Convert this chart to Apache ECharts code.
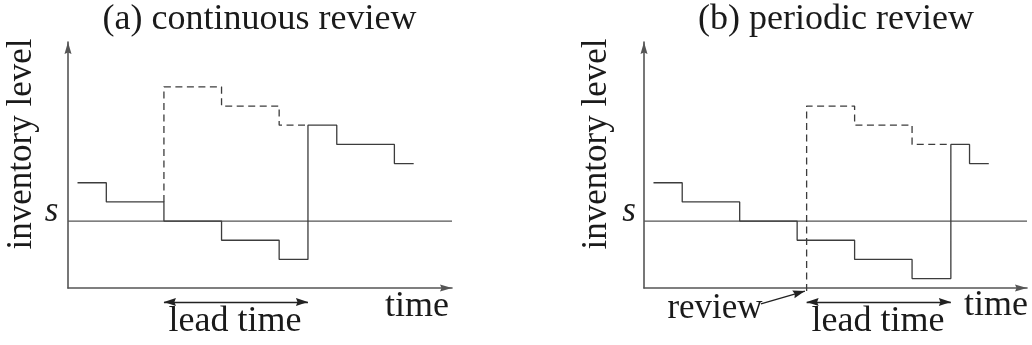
<!DOCTYPE html>
<html>
<head>
<meta charset="utf-8">
<script src="https://cdn.jsdelivr.net/npm/echarts@6/dist/echarts.min.js"></script>
<style>
html,body{margin:0;padding:0;background:#fff;}
#chart{width:1032px;height:345px;}
</style>
</head>
<body>
<div id="chart"></div>
<script>
// ---- data (time in half-period units, level in demand units; s = 0) ----
const panelTitles = ['(a) continuous review', '(b) periodic review'];
const yAxisName = 'inventory level';
const xAxisName = 'time';
const reorderLabel = 's';
const leadLabel = 'lead time';
const reviewLabel = 'review';

const reorderLevel = 0;
const timeRange = [-0.33, 13.0];
const levelRange = [-3.49, 9.34];

// (a) continuous review
const stockTimesA = [0, 1, 3, 5, 7, 8, 9, 11, 11.67];
const stockLevelsA = [2, 1, 0, -1, -2, 5, 4, 3, 3];
const positionTimesA = [3, 3, 5, 7, 8];
const positionLevelsA = [1, 7, 6, 5, 5];
const leadTimeA = [3, 8];

// (b) periodic review
const stockTimesB = [0, 1, 3, 5, 7, 9, 10.35, 11, 11.67];
const stockLevelsB = [2, 1, 0, -1, -2, -3, 4, 3, 3];
const positionTimesB = [5.33, 5.33, 7, 9, 10.35];
const positionLevelsB = [-3.65, 6, 5, 4, 4];
const leadTimeB = [5.33, 10.35];
const reviewArrowB = [[3.74, -4.32], [5.27, -3.65]];
const leadArrowLevel = -4.22;

// ---- helpers ----
const zip = (xs, ys) => xs.map((x, i) => [x, ys[i]]);
// arrow head whose tip sits at the centre of its box
const ARROW = 'path://M3.5,0L3.5,0M3.5,12L7,24L3.5,22.5L0,24Z';
const FONT = '"Liberation Serif", "Times New Roman", serif';
const LINE = '#3c3c3c';
const AXIS = '#555';

function axisX(gi) {
  return {
    type: 'value', gridIndex: gi, min: timeRange[0], max: timeRange[1],
    axisLine: { show: true, onZero: false, symbol: ['none', ARROW], symbolSize: [8, 24],
      lineStyle: { color: AXIS, width: 1.6 } },
    axisTick: { show: false }, axisLabel: { show: false }, splitLine: { show: false }
  };
}
function axisY(gi) {
  return {
    type: 'value', gridIndex: gi, min: levelRange[0], max: levelRange[1],
    axisLine: { show: true, onZero: false, symbol: ['none', ARROW], symbolSize: [8, 24],
      lineStyle: { color: AXIS, width: 1.6 } },
    axisTick: { show: false }, axisLabel: { show: false }, splitLine: { show: false }
  };
}
function stepSeries(gi, data, dashed) {
  return {
    type: 'line', xAxisIndex: gi, yAxisIndex: gi, data: data, step: 'end',
    showSymbol: false, symbol: 'none', clip: false, silent: true,
    lineStyle: { color: LINE, width: 1.3, type: dashed ? [7, 4.5] : 'solid' },
    z: dashed ? 3 : 4
  };
}
function levelSeries(gi) {
  return {
    type: 'line', xAxisIndex: gi, yAxisIndex: gi,
    data: [[timeRange[0], reorderLevel], [timeRange[1], reorderLevel]],
    showSymbol: false, symbol: 'none', clip: false, silent: true,
    lineStyle: { color: '#555', width: 1.4 }, z: 2
  };
}
function arrowSeries(gi, coordsList, symbols, curveness) {
  return {
    type: 'lines', coordinateSystem: 'cartesian2d', xAxisIndex: gi, yAxisIndex: gi,
    clip: false, silent: true,
    symbol: symbols, symbolSize: [[8, 24], [8, 24]],
    lineStyle: { color: '#222', width: 1.4, curveness: curveness || 0, opacity: 1 },
    data: coordsList.map(c => ({ coords: c })), z: 5
  };
}

function txt(text, x, y, opts) {
  opts = opts || {};
  return {
    type: 'text', x: x, y: y, rotation: opts.rotation || 0, silent: true,
    style: { text: text, font: (opts.italic ? 'italic ' : '') + (opts.size || 35) + 'px ' + FONT,
      fill: '#1a1a1a', align: opts.align || 'center', verticalAlign: 'middle' }
  };
}

const option = {
  animation: false,
  backgroundColor: '#fff',
  grid: [
    { left: 68, right: 580, top: 42, bottom: 57 },
    { left: 644, right: 5, top: 42, bottom: 57 }
  ],
  xAxis: [axisX(0), axisX(1)],
  yAxis: [axisY(0), axisY(1)],
  series: [
    levelSeries(0),
    stepSeries(0, zip(stockTimesA, stockLevelsA), false),
    stepSeries(0, zip(positionTimesA, positionLevelsA), true),
    arrowSeries(0, [[[leadTimeA[0], leadArrowLevel], [leadTimeA[1], leadArrowLevel]]], [ARROW, ARROW]),
    levelSeries(1),
    stepSeries(1, zip(stockTimesB, stockLevelsB), false),
    stepSeries(1, zip(positionTimesB, positionLevelsB), true),
    arrowSeries(1, [[[leadTimeB[0], leadArrowLevel], [leadTimeB[1], leadArrowLevel]]], [ARROW, ARROW]),
    arrowSeries(1, [reviewArrowB], ['none', ARROW], 0)
  ],
  graphic: [
    txt(panelTitles[0], 259.5, 20, { size: 36 }),
    txt(panelTitles[1], 836, 20, { size: 36 }),
    txt(yAxisName, 22, 144, { rotation: Math.PI / 2 }),
    txt(yAxisName, 597, 144, { rotation: Math.PI / 2 }),
    txt(reorderLabel, 51.5, 212, { italic: true }),
    txt(reorderLabel, 629, 212, { italic: true }),
    txt(xAxisName, 417, 307, { size: 36 }),
    txt(xAxisName, 996, 306, { size: 36 }),
    txt(leadLabel, 235, 322, { size: 36 }),
    txt(leadLabel, 878, 322, { size: 36 }),
    txt(reviewLabel, 715, 309)
  ]
};

const chart = echarts.init(document.getElementById('chart'), null, { renderer: 'canvas' });
chart.setOption(option);
</script>
</body>
</html>
